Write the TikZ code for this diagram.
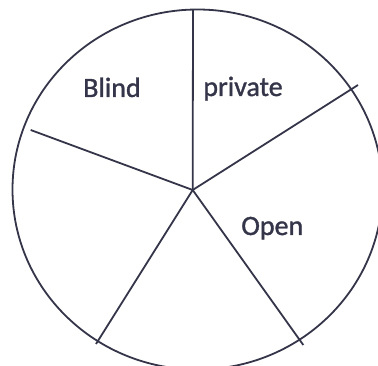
\documentclass[tikz,border=0pt]{standalone}
\usepackage{fontspec}
\setmainfont{Carlito}
\newfontfamily\lblfont[FakeBold=1.2]{Carlito}
\definecolor{ink}{HTML}{35354A}
\begin{document}
\begin{tikzpicture}[x=1pt,y=-1pt,
  spoke/.style={draw=ink, line width=1.8pt},
  lbl/.style={text=ink, font=\lblfont\fontsize{28}{32}\selectfont, inner sep=0pt, anchor=base}]
\useasboundingbox (0,0) rectangle (378,366);
\clip (0,0) rectangle (378,366);
\draw[spoke] (197.5,189.5) ellipse [x radius=185pt, y radius=180pt];
\coordinate (hub) at (192.7,190);
\coordinate (eup) at (193,9.5);
\coordinate (eur) at (358,85);
\coordinate (el) at (30.7,130);
\coordinate (ell) at (96,344);
\coordinate (elr) at (303.3,345);
\draw[spoke] (hub) -- (eup);
\draw[spoke] (hub) -- (eur);
\draw[spoke] (hub) -- (el);
\draw[spoke] (hub) -- (ell);
\draw[spoke] (hub) -- (elr);
\node[lbl] (blind) at (112,97) {Blind};
\node[lbl] (private) at (243,96) {private};
\node[lbl] (open) at (272.3,235) {Open};
\end{tikzpicture}
\end{document}
